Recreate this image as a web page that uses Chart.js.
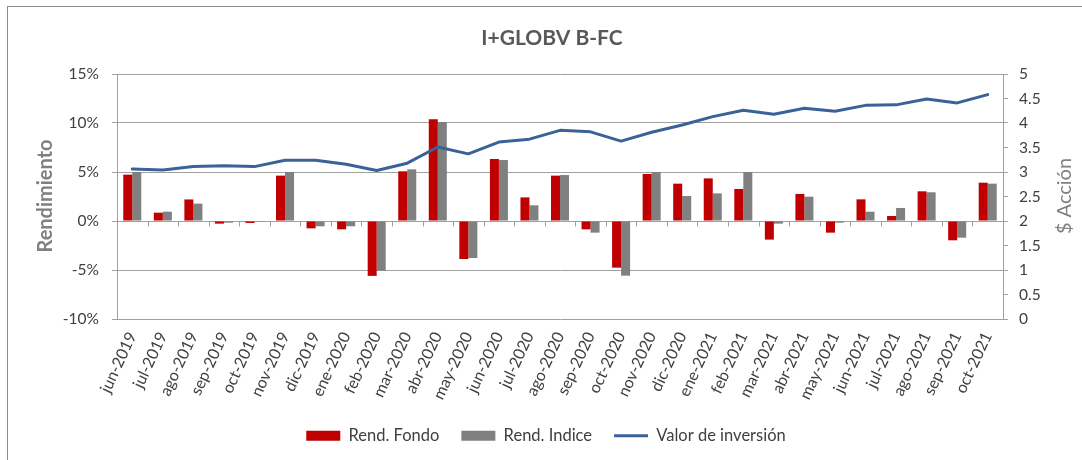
<!DOCTYPE html>
<html><head><meta charset="utf-8">
<script src="https://cdn.jsdelivr.net/npm/chart.js@4.4.1/dist/chart.umd.min.js"></script>
<style>
html,body{margin:0;padding:0;background:#fff;overflow:hidden;}
#wrap{position:relative;width:1082px;height:460px;}
#frame{position:absolute;left:7px;top:6px;width:1200px;height:600px;border:1px solid #8c8c8c;box-sizing:border-box;}
canvas{position:absolute;left:0;top:0;}
</style></head><body>
<div id="wrap"><div id="frame"></div><canvas id="c" width="1082" height="460"></canvas></div>
<script>
const chartTitle = 'I+GLOBV B-FC';
const leftTitle = 'Rendimiento';
const rightTitle = '$ Acción';
const categories = ['jun-2019','jul-2019','ago-2019','sep-2019','oct-2019','nov-2019','dic-2019','ene-2020','feb-2020','mar-2020','abr-2020','may-2020','jun-2020','jul-2020','ago-2020','sep-2020','oct-2020','nov-2020','dic-2020','ene-2021','feb-2021','mar-2021','abr-2021','may-2021','jun-2021','jul-2021','ago-2021','sep-2021','oct-2021'];
const rendFondo = [4.73,0.85,2.2,-0.27,-0.2,4.63,-0.75,-0.85,-5.6,5.07,10.37,-3.88,6.33,2.41,4.63,-0.85,-4.76,4.8,3.81,4.35,3.27,-1.9,2.76,-1.19,2.21,0.51,3.03,-1.97,3.91];
const rendIndice = [5.0,0.95,1.77,-0.17,-0.03,5.0,-0.54,-0.54,-5.07,5.27,10.1,-3.78,6.22,1.6,4.69,-1.19,-5.58,5.0,2.55,2.82,5.0,-0.27,2.48,-0.17,0.95,1.33,2.93,-1.7,3.81];
const valorInversion = [3.06,3.04,3.11,3.13,3.11,3.24,3.24,3.16,3.03,3.18,3.51,3.37,3.61,3.67,3.85,3.82,3.63,3.81,3.96,4.13,4.26,4.18,4.30,4.24,4.36,4.37,4.49,4.41,4.58];
const leftTickLabels = ['-10%','-5%','0%','5%','10%','15%'];
const rightTickLabels = ['0','0.5','1','1.5','2','2.5','3','3.5','4','4.5','5'];

const FONT = 'Lato';
const gridCol = '#a0a0a0';
const txtCol = '#404040';
const PAD = {left:10,right:0,top:74,bottom:6};

const decor = {
  id:'decor',
  beforeDatasetsDraw(chart){
    const ctx = chart.ctx, x = chart.scales.x, y = chart.scales.y;
    const y0 = Math.round(y.getPixelForValue(0)) + 0.5;
    ctx.save();
    ctx.strokeStyle = gridCol; ctx.lineWidth = 1;
    ctx.beginPath();
    for (let i = 1; i < categories.length; i++) {
      const bx = Math.round((x.getPixelForValue(i-1) + x.getPixelForValue(i)) / 2) + 0.5;
      ctx.moveTo(bx, y0); ctx.lineTo(bx, y0 + 5);
    }
    ctx.stroke();
    ctx.restore();
  },
  afterDraw(chart){
    const ctx = chart.ctx;
    ctx.save();
    ctx.textAlign = 'center'; ctx.textBaseline = 'middle';
    ctx.fillStyle = '#595959';
    ctx.font = 'bold 21px ' + FONT;
    ctx.fillText(chartTitle, 552, 38);
    ctx.fillStyle = '#808080';
    ctx.save(); ctx.translate(46, 196); ctx.rotate(-Math.PI/2);
    ctx.font = 'bold 20px ' + FONT; ctx.fillText(leftTitle, 0, 0); ctx.restore();
    ctx.save(); ctx.translate(1065, 196); ctx.rotate(-Math.PI/2);
    ctx.font = '20px ' + FONT; ctx.fillText(rightTitle, 0, 0); ctx.restore();
    ctx.restore();
  }
};

new Chart(document.getElementById('c'), {
  type: 'bar',
  data: {
    labels: categories,
    datasets: [
      {label:'Rend. Fondo', data: rendFondo, backgroundColor:'#C00000', borderWidth:0, yAxisID:'y', order:1, pointStyle:'rect', categoryPercentage:0.59, barPercentage:1.0},
      {label:'Rend. Indice', data: rendIndice, backgroundColor:'#808080', borderWidth:0, yAxisID:'y', order:1, pointStyle:'rect', categoryPercentage:0.59, barPercentage:1.0},
      {type:'line', label:'Valor de inversión', data: valorInversion, borderColor:'#3A6298', backgroundColor:'#3A6298', borderWidth:3, pointRadius:0, tension:0, yAxisID:'y1', order:0, pointStyle:'line', borderJoinStyle:'round', borderCapStyle:'round'}
    ]
  },
  options: {
    responsive:false, animation:false, devicePixelRatio:1,
    layout:{padding:PAD},
    plugins:{
      tooltip:{enabled:false},
      title:{display:false},
      legend:{position:'bottom', labels:{usePointStyle:true, pointStyleWidth:34, boxHeight:10, padding:22, color:txtCol, font:{family:FONT,size:16.5}, sort:(a,b)=>a.datasetIndex-b.datasetIndex}}
    },
    scales:{
      x:{
        grid:{display:false, drawTicks:false}, border:{display:false},
        ticks:{autoSkip:false, maxRotation:65, minRotation:65, padding:10, color:txtCol, font:{family:FONT,size:16}},
        afterFit(s){ s.height = s.chart.height - PAD.bottom - s.chart.legend.height - 319; }
      },
      y:{
        position:'left', min:-10, max:15,
        ticks:{stepSize:5, padding:13, color:txtCol, font:{family:FONT,size:15.5}, callback:(v)=>leftTickLabels[Math.round((v+10)/5)]},
        grid:{color:gridCol, tickColor:gridCol, tickLength:5, lineWidth:1},
        border:{color:gridCol},
        afterFit(s){ s.width = 117 - PAD.left; }
      },
      y1:{
        position:'right', min:0, max:5,
        ticks:{stepSize:0.5, padding:11, color:txtCol, font:{family:FONT,size:15.5}, callback:(v)=>rightTickLabels[Math.round(v*2)]},
        grid:{drawOnChartArea:false, color:gridCol, tickColor:gridCol, tickLength:5},
        border:{color:gridCol},
        afterFit(s){ s.width = 1082 - PAD.right - 1003; }
      }
    }
  },
  plugins:[decor]
});
</script>
</body></html>
